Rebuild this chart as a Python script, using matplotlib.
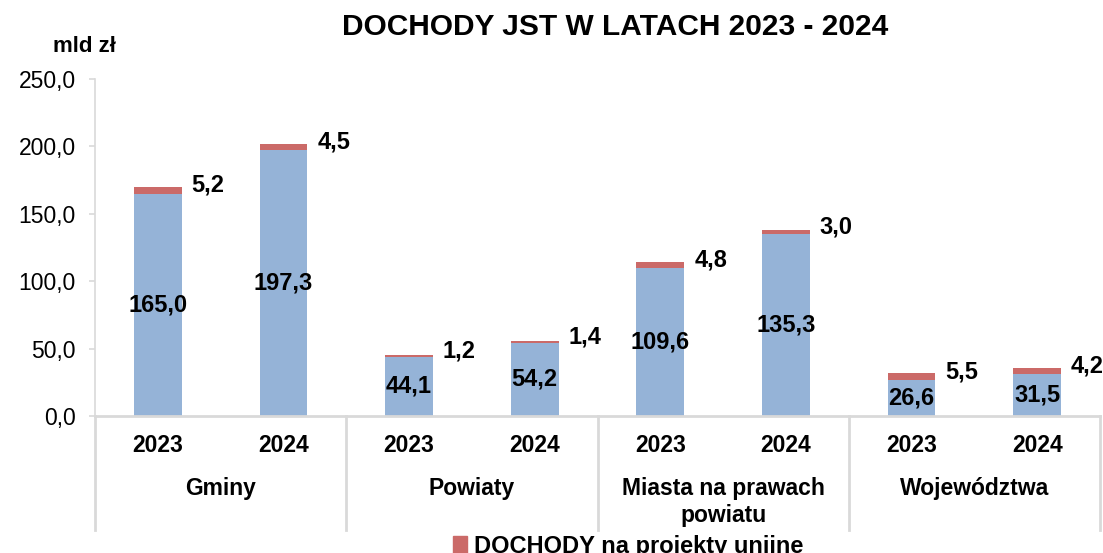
import matplotlib
matplotlib.use("Agg")
import matplotlib.pyplot as plt
import matplotlib.transforms as mtransforms
from matplotlib.ticker import FuncFormatter, MultipleLocator
from matplotlib.patches import Patch
import numpy as np

groups = ["Gminy", "Powiaty", "Miasta na prawach\npowiatu", "Województwa"]
years = ["2023", "2024"]
dochody_bez = [165.0, 197.3, 44.1, 54.2, 109.6, 135.3, 26.6, 31.5]
dochody_unijne = [5.2, 4.5, 1.2, 1.4, 4.8, 3.0, 5.5, 4.2]

plt.rcParams['font.family'] = ['Liberation Sans', 'DejaVu Sans']

blue = '#95B3D7'
red = '#CB6A68'
grey = '#D9D9D9'

fig = plt.figure(figsize=(11.03, 5.53), dpi=100)
ax = fig.add_axes([95/1103, 1-416/553, 1005/1103, 337/553])

x = np.arange(len(dochody_bez)) + 0.5
width = 0.38
base = np.array(dochody_bez)
eu = np.array(dochody_unijne)
ax.bar(x, base, width=width, color=blue, zorder=2)
ax.bar(x, eu, width=width, bottom=base, color=red, zorder=2)

fmt = lambda v: f"{v:.1f}".replace('.', ',')
for xi, b, e in zip(x, base, eu):
    ax.text(xi, b/2, fmt(b), ha='center', va='center', fontsize=17, fontweight='bold', zorder=3)
    ax.text(xi + width/2 + 0.08, b + e/2 + 3.5, fmt(e), ha='left', va='center',
            fontsize=17, fontweight='bold', zorder=3)

ax.set_xlim(0, len(x))
ax.set_ylim(0, 250)
ax.yaxis.set_major_locator(MultipleLocator(50))
ax.yaxis.set_major_formatter(FuncFormatter(lambda v, p: fmt(v)))
ax.tick_params(axis='y', labelsize=16.5, length=4, color=grey, width=1.2, pad=10)
ax.set_xticks([])
for s in ['top', 'right']:
    ax.spines[s].set_visible(False)
ax.spines['left'].set_color(grey)
ax.spines['left'].set_linewidth(1.2)
ax.spines['bottom'].set_color(grey)
ax.spines['bottom'].set_linewidth(2)

trans = mtransforms.blended_transform_factory(ax.transData, ax.transAxes)
px = 1/337
for gx in range(0, len(x) + 1, 2):
    ax.plot([gx, gx], [0, -114*px], transform=trans, color=grey, lw=2, clip_on=False)
for i, xi in enumerate(x):
    ax.text(xi, -30*px, years[i % 2], transform=trans, ha='center', va='center',
            fontsize=16.5, fontweight='bold')
for gi, g in enumerate(groups):
    ax.text(2*gi + 1, -61*px, g, transform=trans, ha='center', va='top',
            fontsize=16.5, fontweight='bold', linespacing=1.2)

fig.text(615/1103, 1-27/553, "DOCHODY JST W LATACH 2023 - 2024", ha='center', va='center',
         fontsize=21.5, fontweight='bold')
fig.text(53/1103, 1-47/553, "mld zł", ha='left', va='center', fontsize=16, fontweight='bold')

fig.legend(handles=[Patch(color=red, label='DOCHODY na projekty unijne')], loc='center',
           bbox_to_anchor=(628/1103, 1-546/553), frameon=False, handlelength=0.6, handleheight=0.7,
           handletextpad=0.3, prop={'size': 17, 'weight': 'bold'})

fig.savefig('out.png', dpi=100)
